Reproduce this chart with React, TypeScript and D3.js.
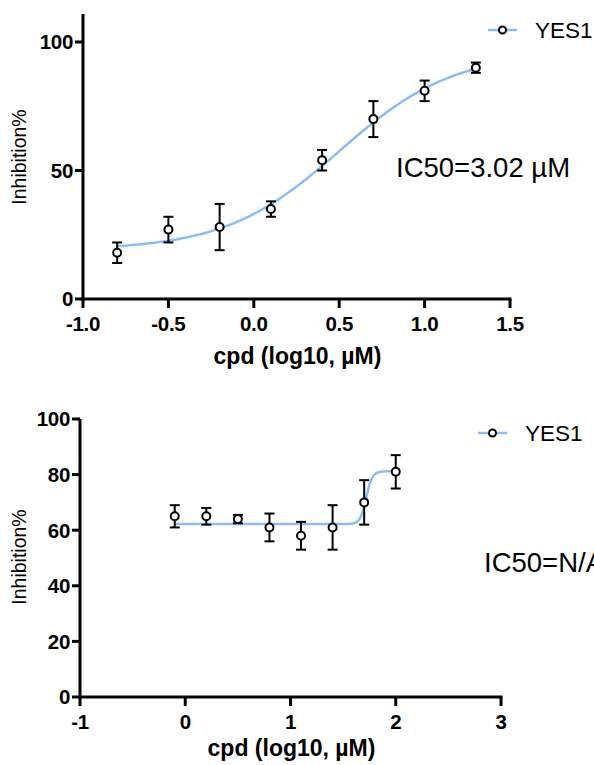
import React from "react";
import * as d3 from "d3";

// Chart 1 data
const x1 = [-0.8, -0.5, -0.2, 0.1, 0.4, 0.7, 1.0, 1.3];
const y1 = [18, 27, 28, 35, 54, 70, 81, 90];
const e1 = [4, 5, 9, 3, 4, 7, 4, 2];
const fit1 = [19, 96, 0.5, 1.3]; // bottom, top, logEC50, hill
const xTicks1 = [-1.0, -0.5, 0.0, 0.5, 1.0, 1.5];
const yTicks1 = [0, 50, 100];

// Chart 2 data
const x2 = [-0.1, 0.2, 0.5, 0.8, 1.1, 1.4, 1.7, 2.0];
const y2 = [65, 65, 64, 61, 58, 61, 70, 81];
const e2 = [4, 3, 1.5, 5, 5, 8, 8, 6];
const fit2 = [62.2, 81.2, 1.72, 15];
const xTicks2 = [-1, 0, 1, 2, 3];
const yTicks2 = [0, 20, 40, 60, 80, 100];

const seriesName = "YES1";
const ic50Labels = ["IC50=3.02 \u00b5M", "IC50=N/A"];

const CURVE = "#8cbcf2";
const FONT = "'Liberation Sans', Arial, sans-serif";

function logistic(p: number[], x: number) {
  const [b, t, m, h] = p;
  return b + (t - b) / (1 + Math.pow(10, (m - x) * h));
}

type PanelProps = {
  xs: number[]; ys: number[]; es: number[]; fit: number[];
  xTicks: number[]; yTicks: number[]; xDomain: [number, number]; yDomain: [number, number];
  xRange: [number, number]; yRange: [number, number]; axisTop: number;
  decimals: number; legend: { x: number; y: number }; ic50: string; icPos: { x: number; y: number };
  tickLabelY: number; titleY: number; ylabelY: number;
};

function Panel(p: PanelProps) {
  const xs = d3.scaleLinear().domain(p.xDomain).range(p.xRange);
  const ys = d3.scaleLinear().domain(p.yDomain).range(p.yRange);
  const lo = d3.min(p.xs)!, hi = d3.max(p.xs)!;
  const pts = d3.range(0, 401).map((i) => lo + ((hi - lo) * i) / 400);
  const line = d3.line<number>().x((d) => xs(d)).y((d) => ys(logistic(p.fit, d)));
  const x0 = p.xRange[0];
  const yBase = p.yRange[0];
  const fmt = (v: number) => v.toFixed(p.decimals);
  return (
    <g>
      <path d={line(pts)!} fill="none" stroke={CURVE} strokeWidth={2.5} />
      {p.xs.map((x, i) => {
        const cx = xs(x);
        const top = ys(p.ys[i] + p.es[i]);
        const bot = ys(p.ys[i] - p.es[i]);
        return (
          <g key={i} stroke="#000" strokeWidth={2}>
            <line x1={cx} x2={cx} y1={top} y2={bot} />
            <line x1={cx - 5} x2={cx + 5} y1={top} y2={top} />
            <line x1={cx - 5} x2={cx + 5} y1={bot} y2={bot} />
            <circle cx={cx} cy={ys(p.ys[i])} r={4} fill="#fff" />
          </g>
        );
      })}
      {/* axes */}
      <line x1={x0} x2={x0} y1={p.axisTop} y2={yBase + 1.5} stroke="#000" strokeWidth={3} />
      <line x1={x0 - 1.5} x2={p.xRange[1] + 1.5} y1={yBase} y2={yBase} stroke="#000" strokeWidth={3} />
      {p.yTicks.map((t) => (
        <g key={"y" + t}>
          <line x1={x0 - 8} x2={x0} y1={ys(t)} y2={ys(t)} stroke="#000" strokeWidth={3} />
          <text x={x0 - 10} y={ys(t)} dy="0.36em" textAnchor="end" fontFamily={FONT} fontWeight="bold" fontSize={20.5} letterSpacing={-0.3}>
            {t}
          </text>
        </g>
      ))}
      {p.xTicks.map((t) => (
        <g key={"x" + t}>
          <line x1={xs(t)} x2={xs(t)} y1={yBase} y2={yBase + 9} stroke="#000" strokeWidth={3} />
          <text x={xs(t)} y={p.tickLabelY} dy="0.36em" textAnchor="middle" fontFamily={FONT} fontWeight="bold" fontSize={20.5} letterSpacing={-0.3}>
            {fmt(t)}
          </text>
        </g>
      ))}
      <text x={(p.xRange[0] + p.xRange[1]) / 2 + 1} y={p.titleY} dy="0.36em" textAnchor="middle" fontFamily={FONT} fontWeight="bold" fontSize={23}>
        cpd (log10, {"\u00b5"}M)
      </text>
      <text transform={`translate(19,${p.ylabelY}) rotate(-90)`} dy="0.36em" textAnchor="middle" fontFamily={FONT} fontSize={19.5}>
        Inhibition%
      </text>
      {/* legend */}
      <line x1={p.legend.x} x2={p.legend.x + 29} y1={p.legend.y} y2={p.legend.y} stroke={CURVE} strokeWidth={2.5} />
      <circle cx={p.legend.x + 14.5} cy={p.legend.y} r={3.5} fill="#fff" stroke="#000" strokeWidth={2} />
      <text x={p.legend.x + 47} y={p.legend.y} dy="0.36em" fontFamily={FONT} fontSize={22.5}>
        {seriesName}
      </text>
      <text x={p.icPos.x} y={p.icPos.y} fontFamily={FONT} fontSize={27.5}>
        {p.ic50}
      </text>
    </g>
  );
}

export default function App() {
  return (
    <svg width={594} height={765} style={{ position: "absolute", left: 0, top: 0, background: "#fff" }}>
      <rect width={594} height={765} fill="#fff" />
      <Panel
        xs={x1} ys={y1} es={e1} fit={fit1}
        xTicks={xTicks1} yTicks={yTicks1}
        xDomain={[-1, 1.5]} yDomain={[0, 100]}
        xRange={[83, 510]} yRange={[299, 42]} axisTop={14}
        decimals={1}
        legend={{ x: 488, y: 30 }} ic50={ic50Labels[0]} icPos={{ x: 396, y: 177 }}
        tickLabelY={324} titleY={356} ylabelY={157}
      />
      <Panel
        xs={x2} ys={y2} es={e2} fit={fit2}
        xTicks={xTicks2} yTicks={yTicks2}
        xDomain={[-1, 3]} yDomain={[0, 100]}
        xRange={[80, 501]} yRange={[697, 419]} axisTop={419}
        decimals={0}
        legend={{ x: 478, y: 433 }} ic50={ic50Labels[1]} icPos={{ x: 484, y: 572 }}
        tickLabelY={722} titleY={748} ylabelY={557}
      />
    </svg>
  );
}
